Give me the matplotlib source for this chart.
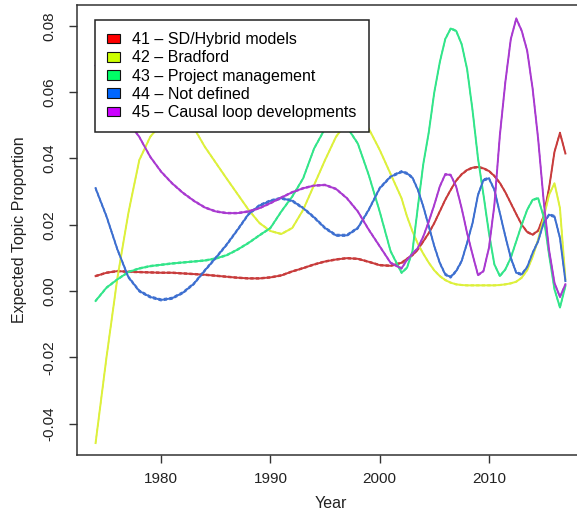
import matplotlib.pyplot as plt
from matplotlib.patches import Patch

plt.rcParams['font.family'] = ['Liberation Sans', 'DejaVu Sans']

# time points of the fitted topic-prevalence curves
years = [1974, 1975, 1976, 1977, 1978, 1979, 1980, 1981, 1982, 1983,
         1984, 1985, 1986, 1987, 1988, 1989, 1990, 1991, 1992, 1993,
         1994, 1995, 1996, 1997, 1998, 1999, 2000, 2001,
         2002, 2002.5, 2003, 2003.5, 2004, 2004.5, 2005, 2005.5,
         2006, 2006.5, 2007, 2007.5, 2008, 2008.5, 2009, 2009.5,
         2010, 2010.5, 2011, 2011.5, 2012, 2012.5, 2013, 2013.5,
         2014, 2014.5, 2015, 2015.5, 2016, 2016.5, 2017]

topic41 = [0.0045, 0.0055, 0.0060, 0.0058, 0.0057, 0.0056, 0.0055, 0.0055, 0.0053, 0.0051,
           0.0049, 0.0046, 0.0043, 0.0040, 0.0038, 0.0038, 0.0041, 0.0047, 0.0059, 0.0069,
           0.0080, 0.0089, 0.0095, 0.0099, 0.0097, 0.0088, 0.0078, 0.0076,
           0.0085, 0.0097, 0.0108, 0.0125, 0.0150, 0.0175, 0.0205, 0.0240,
           0.0275, 0.0305, 0.0333, 0.0352, 0.0365, 0.0372, 0.0374, 0.0370,
           0.0362, 0.0347, 0.0326, 0.0298, 0.0265, 0.0232, 0.0200, 0.0178,
           0.0170, 0.0182, 0.0225, 0.0310, 0.0420, 0.0477, 0.0415]
topic42 = [-0.0459, -0.0200, 0.0040, 0.0235, 0.0395, 0.0465, 0.0505, 0.0525, 0.0525, 0.0492,
           0.0435, 0.0387, 0.0339, 0.0292, 0.0245, 0.0205, 0.0181, 0.0172, 0.0190, 0.0245,
           0.0320, 0.0395, 0.0465, 0.0510, 0.0525, 0.0490, 0.0426, 0.0353,
           0.0280, 0.0225, 0.0180, 0.0142, 0.0112, 0.0085, 0.0062, 0.0045,
           0.0033, 0.0025, 0.0020, 0.0018, 0.0017, 0.0017, 0.0017, 0.0017,
           0.0017, 0.0017, 0.0018, 0.0020, 0.0023, 0.0028, 0.0040, 0.0063,
           0.0103, 0.0155, 0.0220, 0.0290, 0.0325, 0.0250, 0.0035]
topic43 = [-0.0030, 0.0010, 0.0035, 0.0057, 0.0068, 0.0075, 0.0079, 0.0083, 0.0086, 0.0089,
           0.0092, 0.0098, 0.0108, 0.0125, 0.0145, 0.0168, 0.0190, 0.0240, 0.0285, 0.0340,
           0.0430, 0.0490, 0.0510, 0.0495, 0.0445, 0.0350, 0.0240, 0.0120,
           0.0055, 0.0070, 0.0120, 0.0255, 0.0385, 0.0480, 0.0600, 0.0690,
           0.0760, 0.0792, 0.0785, 0.0745, 0.0670, 0.0545, 0.0400, 0.0290,
           0.0175, 0.0080, 0.0045, 0.0065, 0.0100, 0.0150, 0.0200, 0.0245,
           0.0275, 0.0280, 0.0225, 0.0110, 0.0005, -0.0050, 0.0015]
topic44 = [0.0310, 0.0225, 0.0125, 0.0042, 0.0000, -0.0018, -0.0027, -0.0022, -0.0005, 0.0022,
           0.0062, 0.0100, 0.0140, 0.0185, 0.0232, 0.0258, 0.0272, 0.0280, 0.0272, 0.0250,
           0.0222, 0.0190, 0.0168, 0.0168, 0.0190, 0.0245, 0.0310, 0.0345,
           0.0360, 0.0355, 0.0342, 0.0305, 0.0254, 0.0195, 0.0135, 0.0085,
           0.0050, 0.0042, 0.0060, 0.0090, 0.0145, 0.0205, 0.0290, 0.0335,
           0.0340, 0.0305, 0.0235, 0.0165, 0.0100, 0.0055, 0.0050, 0.0072,
           0.0115, 0.0150, 0.0205, 0.0230, 0.0225, 0.0160, 0.0030]
topic45 = [0.0680, 0.0620, 0.0560, 0.0510, 0.0465, 0.0405, 0.0360, 0.0325, 0.0296, 0.0272,
           0.0252, 0.0240, 0.0235, 0.0235, 0.0240, 0.0250, 0.0265, 0.0282, 0.0298, 0.0310,
           0.0318, 0.0320, 0.0308, 0.0280, 0.0240, 0.0185, 0.0135, 0.0085,
           0.0068, 0.0094, 0.0112, 0.0130, 0.0165, 0.0210, 0.0260, 0.0315,
           0.0352, 0.0350, 0.0315, 0.0250, 0.0175, 0.0110, 0.0048, 0.0060,
           0.0130, 0.0260, 0.0470, 0.0630, 0.0760, 0.0822, 0.0785, 0.0725,
           0.0610, 0.0460, 0.0275, 0.0124, 0.0024, -0.0018, 0.0020]

topics = [topic41, topic42, topic43, topic44, topic45]
labels = ['41 \u2013 SD/Hybrid models', '42 \u2013 Bradford',
          '43 \u2013 Project management', '44 \u2013 Not defined',
          '45 \u2013 Causal loop developments']
# half-width of the confidence band for each topic
ci = [0.0002, 0.00015, 0.0002, 0.0003, 0.0002]

fills = ['#FF0000', '#CCFF00', '#00FF66', '#0066FF', '#CC00FF']
lines = ['#C83C3C', '#DDF03C', '#33E58A', '#3D6FD0', '#A93AD0']

fig = plt.figure(figsize=(5.77, 5.19), dpi=100)
ax = fig.add_axes([77 / 577, 64 / 519, 507 / 577, 450 / 519])

for y, c, w in zip(topics, lines, ci):
    ax.plot(years, y, color=c, lw=1.4, zorder=3)
    ax.plot(years, [v + w for v in y], color=c, lw=0.8, ls=(0, (3, 2)), zorder=2)
    ax.plot(years, [v - w for v in y], color=c, lw=0.8, ls=(0, (3, 2)), zorder=2)

ax.set_xlim(1972.3, 2018.7)
ax.set_ylim(-0.0495, 0.0863)
ax.set_xticks([1980, 1990, 2000, 2010])
ax.set_yticks([-0.04, -0.02, 0.0, 0.02, 0.04, 0.06, 0.08])
ax.set_yticklabels(['-0.04', '-0.02', '0.00', '0.02', '0.04', '0.06', '0.08'])

for s in ['left', 'bottom', 'top', 'right']:
    ax.spines[s].set_color('#333333')
    ax.spines[s].set_linewidth(1.1)
ax.tick_params(axis='both', length=6, width=1.0, color='#333333',
               labelsize=11, labelcolor='#222222')
ax.tick_params(axis='x', pad=6)
ax.tick_params(axis='y', labelrotation=90, pad=9)
for lbl in ax.get_yticklabels():
    lbl.set_va('center')

ax.set_xlabel('Year', fontsize=11.5, color='#222222')
ax.xaxis.set_label_coords(0.5, -0.092)
ax.set_ylabel('Expected Topic Proportion', fontsize=11.5, color='#222222')
ax.yaxis.set_label_coords(-0.098, 0.5)

handles = [Patch(facecolor=f, edgecolor='#111111', lw=0.8) for f in fills]
leg = ax.legend(handles, labels, loc='upper left', bbox_to_anchor=(0.035, 0.966),
                borderaxespad=0, fontsize=11.5, frameon=True, fancybox=False,
                framealpha=1, edgecolor='#222222', handlelength=0.8,
                handleheight=0.55, handletextpad=0.8, labelspacing=0.2,
                borderpad=0.75)
leg.get_frame().set_linewidth(1.1)
leg.set_zorder(10)

fig.savefig('out.png', dpi=100)
